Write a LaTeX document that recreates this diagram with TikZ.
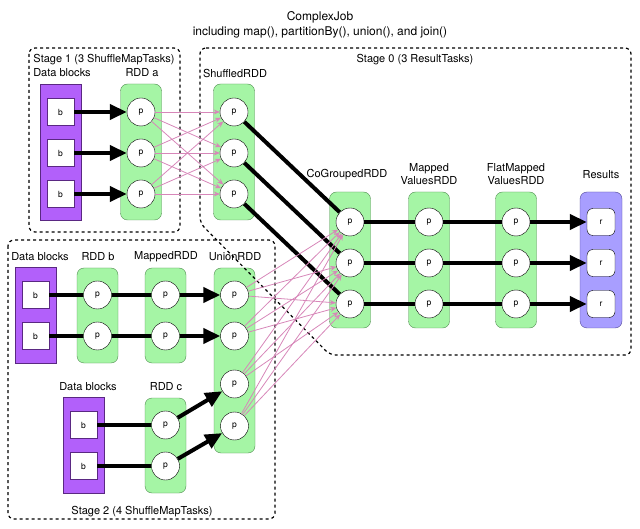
\documentclass[tikz,border=0pt]{standalone}
\usepackage{fontspec}
\setmainfont{TeX Gyre Heros}
\usetikzlibrary{arrows.meta}
\definecolor{pur}{RGB}{178,96,250}
\definecolor{purd}{RGB}{90,40,130}
\definecolor{grn}{RGB}{165,245,165}
\definecolor{grnd}{RGB}{80,140,80}
\definecolor{lav}{RGB}{168,158,255}
\definecolor{lavd}{RGB}{80,70,150}
\definecolor{pinkc}{RGB}{215,135,185}
\begin{document}
\begin{tikzpicture}[x=1pt,y=-1pt,
  lbl/.style={font=\fontsize{11}{12.5}\selectfont, inner sep=0, align=center},
  stagebox/.style={draw, dashed, line width=1.2pt, rounded corners=6pt},
  grnbox/.style={draw=grnd, fill=grn, rounded corners=7pt, minimum width=41pt, inner sep=0},
  purbox/.style={draw=purd, fill=pur, minimum width=41pt, inner sep=0},
  lavbox/.style={draw=lavd, fill=lav, rounded corners=7pt, minimum width=42pt, minimum height=136pt, inner sep=0},
  pnode/.style={circle, draw, fill=white, minimum size=28pt, inner sep=0, font=\fontsize{8.5}{9}\selectfont},
  bnode/.style={draw=purd, fill=white, minimum size=27pt, inner sep=0, font=\fontsize{8.5}{9}\selectfont},
  rnode/.style={draw, fill=white, rounded corners=6pt, minimum width=28pt, minimum height=27pt, inner sep=0, font=\fontsize{8.5}{9}\selectfont},
  thk/.style={line width=4pt},
  arr/.style={line width=4pt, -{Triangle[length=17pt,width=15pt]}},
  pk/.style={draw=pinkc, line width=0.8pt, -{Stealth[length=6pt,width=5pt]}}
]
\useasboundingbox (0,0) rectangle (640,529);

% titles
\node[lbl, font=\fontsize{12}{14}\selectfont] (t1) at (320,17) {ComplexJob};
\node[lbl, font=\fontsize{12}{14}\selectfont] (t2) at (320,32) {including map(), partitionBy(), union(), and join()};

% stage boxes 1 and 2
\draw[stagebox] (29,48) rectangle (180,232);
\draw[stagebox] (8,240) rectangle (275,519);

% stage 1
\node[lbl] (st1) at (104,60) {Stage 1 (3 ShuffleMapTasks)};
\node[lbl] (ldb1) at (62,73) {Data blocks};
\node[lbl] (lra) at (142,73) {RDD a};
\node[lbl] (lsh) at (235,73) {ShuffledRDD};
\node[purbox, minimum height=136pt] (dba) at (60.5,152) {};
\node[grnbox, minimum height=136pt] (ra) at (141,152) {};
\node[grnbox, minimum height=136pt] (sh) at (234,152) {};

% stage 0
\node[lbl] (st0) at (415,60) {Stage 0 (3 ResultTasks)};
\node[lbl] (lco) at (347,175) {CoGroupedRDD};
\node[lbl] (lmv) at (429,174) {Mapped\\ValuesRDD};
\node[lbl] (lfm) at (516,174) {FlatMapped\\ValuesRDD};
\node[lbl] (lres) at (601,175) {Results};
\node[grnbox, minimum height=136pt] (co) at (350,260) {};
\node[grnbox, minimum height=136pt] (mv) at (429,260) {};
\node[grnbox, minimum height=136pt] (fm) at (516,260) {};
\node[lavbox] (res) at (601,260) {};

% stage 2
\node[lbl] (st2) at (142,512) {Stage 2 (4 ShuffleMapTasks)};
\node[lbl] (ldb2) at (40,257) {Data blocks};
\node[lbl] (lrb) at (98,257) {RDD b};
\node[lbl] (lmr) at (166,257) {MappedRDD};
\node[lbl] (lun) at (235,257) {UnionRDD};
\node[lbl] (ldb3) at (88,387) {Data blocks};
\node[lbl] (lrc) at (166,387) {RDD c};
\node[purbox, minimum height=96pt] (dbb) at (35.5,315) {};
\node[grnbox, minimum height=95pt] (rb) at (97.5,315.5) {};
\node[grnbox, minimum height=95pt] (mr) at (165.5,315.5) {};
\node[grnbox, minimum height=185pt] (un) at (234.5,360.5) {};
\node[purbox, minimum height=96pt] (dbc) at (83.5,445) {};
\node[grnbox, minimum height=95pt] (rc) at (165.5,445.5) {};

% stage 0 box drawn over the rectangles
\draw[stagebox] (200,48) -- (631,48) -- (631,355) -- (330,355) -- (200,223) -- cycle;

% partitions
\foreach \i/\y in {1/112,2/153,3/194}{
  \node[bnode] (ba\i) at (60.5,\y) {b};
  \node[pnode] (a\i) at (141,\y) {p};
  \node[pnode] (s\i) at (234,\y) {p};
}
\foreach \i/\y in {1/222,2/263,3/304}{
  \node[pnode] (c\i) at (350,\y) {p};
  \node[pnode] (m\i) at (429,\y) {p};
  \node[pnode] (f\i) at (516,\y) {p};
  \node[rnode] (r\i) at (601,\y) {r};
}
\foreach \i/\y in {1/295,2/336}{
  \node[bnode] (bb\i) at (35.5,\y) {b};
  \node[pnode] (pb\i) at (97.5,\y) {p};
  \node[pnode] (pm\i) at (165.5,\y) {p};
}
\foreach \i/\y in {1/295,2/336,3/384,4/426}{
  \node[pnode] (u\i) at (234.5,\y) {p};
}
\foreach \i/\y in {1/425,2/466}{
  \node[bnode] (bc\i) at (83.5,\y) {b};
  \node[pnode] (pc\i) at (165.5,\y) {p};
}

% connectors stage 1 and 0
\foreach \i in {1,2,3}{
  \draw[arr] (ba\i) -- (a\i);
  \foreach \j in {1,2,3}{ \draw[pk] (a\i) -- (s\j); }
  \draw[thk] (s\i) -- (c\i);
  \draw[thk] (c\i) -- (m\i);
  \draw[thk] (m\i) -- (f\i);
  \draw[arr] (f\i) -- (r\i);
}
% connectors stage 2
\foreach \i in {1,2}{
  \draw[thk] (bb\i) -- (pb\i);
  \draw[thk] (pb\i) -- (pm\i);
  \draw[arr] (pm\i) -- (u\i);
  \draw[thk] (bc\i) -- (pc\i);
}
\draw[arr] (pc1) -- (u3);
\draw[arr] (pc2) -- (u4);
\foreach \i in {1,2,3,4}{
  \foreach \j in {1,2,3}{ \draw[pk] (u\i) -- (c\j); }
}
\end{tikzpicture}
\end{document}
